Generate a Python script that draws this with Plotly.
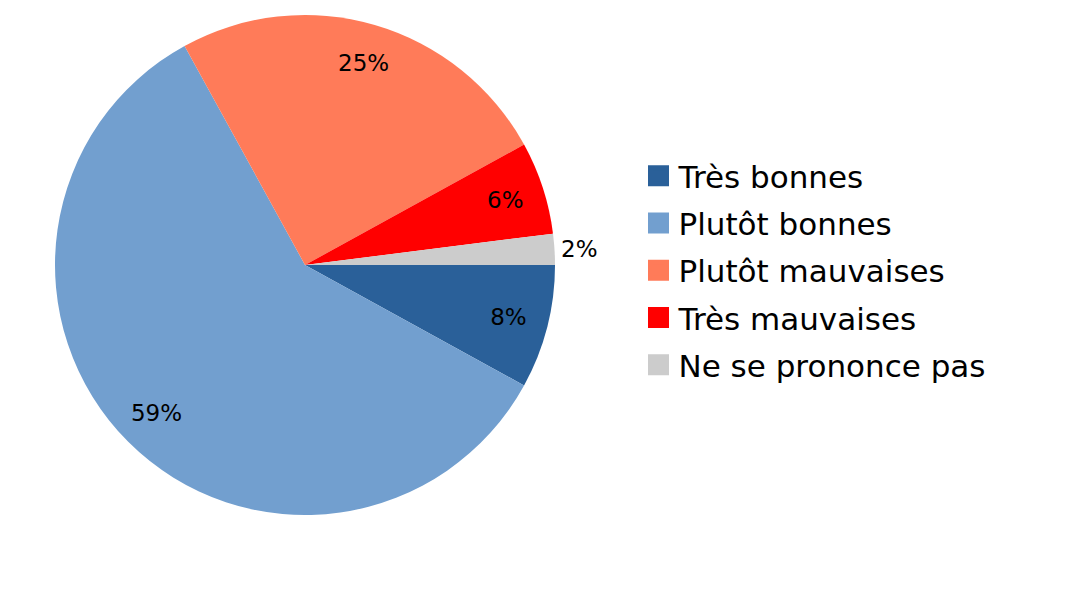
import plotly.graph_objects as go

categories = ["Très bonnes", "Plutôt bonnes", "Plutôt mauvaises", "Très mauvaises", "Ne se prononce pas"]
values = [8, 59, 25, 6, 2]
text_labels = ["8%", "59%", "25%", "6%", "2%"]
colors = ["#2A6099", "#729FCF", "#FF7B59", "#FF0000", "#CCCCCC"]
text_positions = ["inside", "inside", "inside", "inside", "outside"]

W, H = 1080, 608
OFF = 8  # page body offset
dom_x = [(55 - OFF) / W, (555 - OFF) / W]
dom_y = [1 - (515 - OFF) / H, 1 - (15 - OFF) / H]
FONT = "DejaVu Sans"

fig = go.Figure()
fig.add_trace(go.Pie(
    labels=categories, values=values, sort=False, direction="clockwise", rotation=90,
    marker=dict(colors=colors, line=dict(width=0)), textinfo="none",
    domain=dict(x=dom_x, y=dom_y), showlegend=False, hoverinfo="skip",
))
fig.add_trace(go.Pie(
    labels=categories, values=values, sort=False, direction="clockwise", rotation=90,
    hole=0.68, marker=dict(colors=["rgba(0,0,0,0)"] * 5, line=dict(width=0)),
    text=text_labels, textinfo="text", textposition=text_positions,
    insidetextorientation="horizontal",
    textfont=dict(family=FONT, size=23, color="black"),
    domain=dict(x=dom_x, y=dom_y), showlegend=False, hoverinfo="skip",
))
for i, (cat, col) in enumerate(zip(categories, colors)):
    fig.add_trace(go.Scatter(
        x=[None], y=[None], mode="markers", name=cat, legendgroup=f"g{i}",
        marker=dict(symbol="square", size=16, color=col, line=dict(color=col, width=5)),
    ))

fig.update_layout(
    width=W, height=H, margin=dict(l=0, r=0, t=0, b=0),
    paper_bgcolor="white", plot_bgcolor="white",
    xaxis=dict(visible=False), yaxis=dict(visible=False),
    legend=dict(x=(638.5 - OFF) / W, y=1 - (270.5 - OFF) / H, xanchor="left", yanchor="middle",
                font=dict(family=FONT, size=31, color="black"), itemsizing="trace",
                tracegroupgap=4),
    showlegend=True,
)
fig.write_html("out.html")
